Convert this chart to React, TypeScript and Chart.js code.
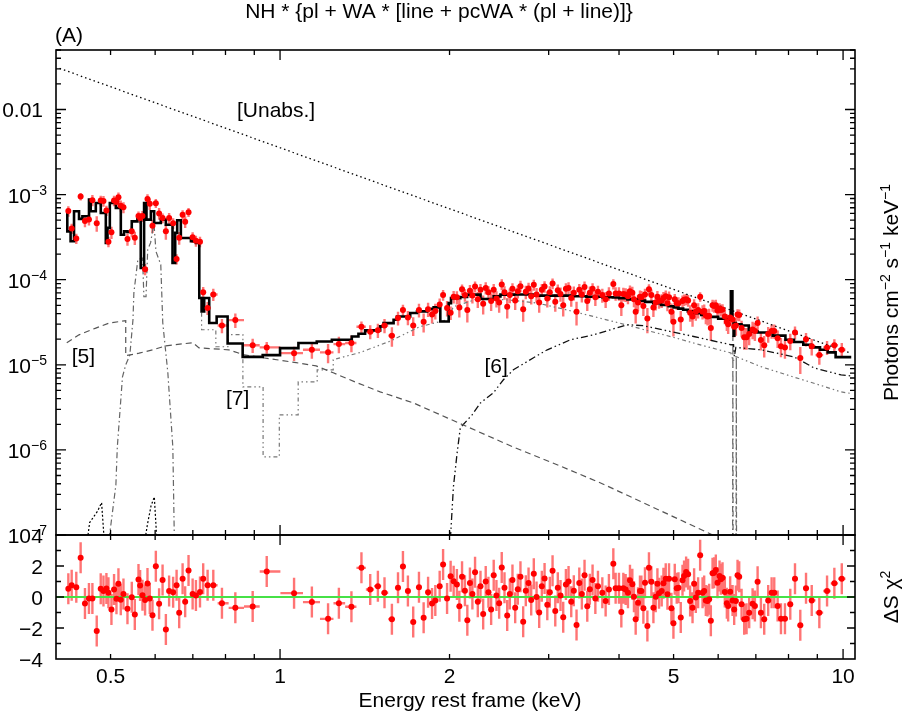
import React, { useEffect, useRef } from 'react';
import { Chart, registerables } from 'chart.js';

Chart.register(...registerables);

const FONT = '"Liberation Sans", Arimo, Arial, Helvetica, sans-serif';
const MAIN_FONT = `21px ${FONT}`;
const SUP_FONT = `14px ${FONT}`;

// ---- axes ----
const X_MIN = 0.4;
const X_MAX = 10.5;
const Y_MIN = 1e-7;
const Y_MAX = 0.05;
const R_MIN = -4;
const R_MAX = 4;

const xTickValues = [0.5, 1, 2, 5, 10];
const xTickLabels = ['0.5', '1', '2', '5', '10'];
const yPowerExponents = [-7, -6, -5, -4, -3];
const yPlainValues = [0.01];
const yPlainLabels = ['0.01'];
const rTickValues = [-4, -2, 0, 2, 4];
const rTickLabels = ['−4', '−2', '0', '2', '4'];

const chartTitle = 'NH * {pl + WA * [line + pcWA * (pl + line)]}';
const panelLabel = '(A)';
const xTitle = 'Energy rest frame (keV)';

// ---- observed spectrum (bin centres, keV) ----
const energy = [
  0.4207, 0.4265, 0.4346, 0.4424, 0.4503, 0.4577, 0.4642, 0.4725, 0.4803, 0.4857,
  0.4916, 0.4957, 0.5018, 0.5072, 0.5122, 0.5164, 0.5213, 0.5271, 0.5358, 0.5453,
  0.5521, 0.5605, 0.5642, 0.5697, 0.5758, 0.5815, 0.5870, 0.5935, 0.6017, 0.6098,
  0.6185, 0.6269, 0.6353, 0.6458, 0.6550, 0.6620, 0.6713, 0.6784, 0.6878, 0.6994,
  0.7089, 0.7208, 0.7303, 0.7436, 0.7611, 0.7885, 0.8329, 0.8941, 0.9470, 1.059,
  1.139, 1.217, 1.272, 1.339, 1.395, 1.446, 1.492, 1.533, 1.580, 1.620,
  1.653, 1.687, 1.724, 1.765, 1.799, 1.832, 1.862, 1.887, 1.921, 1.948,
  1.980, 2.009, 2.034,
  2.061, 2.082, 2.105, 2.130, 2.151, 2.174, 2.196, 2.220, 2.245, 2.270,
  2.295, 2.319, 2.345, 2.371, 2.396, 2.423, 2.450, 2.476, 2.504, 2.532,
  2.559, 2.587, 2.616, 2.644, 2.673, 2.703, 2.732, 2.763, 2.793, 2.823,
  2.855, 2.886, 2.917, 2.950, 2.983, 3.014, 3.048, 3.082, 3.114, 3.149,
  3.184, 3.219, 3.254, 3.290, 3.325, 3.362, 3.400, 3.436, 3.474, 3.513,
  3.550, 3.590, 3.631, 3.670,
  3.736, 3.787, 3.838, 3.908, 3.945, 3.999, 4.038, 4.071, 4.110, 4.149,
  4.183, 4.224, 4.252, 4.282, 4.323, 4.358, 4.383, 4.419, 4.448, 4.492,
  4.521, 4.566, 4.604, 4.648, 4.680, 4.711, 4.763, 4.797, 4.842, 4.876,
  4.908, 4.956, 4.997, 5.024, 5.065, 5.101, 5.149, 5.186, 5.219, 5.263,
  5.306, 5.350, 5.403, 5.438, 5.476, 5.528, 5.574, 5.629, 5.666, 5.705,
  5.745, 5.783, 5.823, 5.864, 5.902, 5.943, 5.984, 6.034, 6.066, 6.108,
  6.166, 6.217, 6.250, 6.302, 6.364, 6.406, 6.451, 6.495, 6.539, 6.603,
  6.674, 6.739, 6.812, 6.907, 6.973, 7.050, 7.146, 7.244, 7.362, 7.466,
  7.547, 7.652, 7.757, 7.885, 8.058, 8.215, 8.395, 8.594, 8.797, 9.075,
  9.366, 9.650, 9.947,
];

// photons cm^-2 s^-1 keV^-1
const flux = [
  6.4e-4, 4.0e-4, 3.05e-4, 9.5e-4, 4.9e-4, 5.1e-4, 8.6e-4, 4.6e-4, 8.5e-4, 8.4e-4,
  6.5e-4, 2.8e-4, 3.6e-4, 8.5e-4, 8.2e-4, 9.3e-4, 7.4e-4, 7.1e-4, 3.0e-4, 3.7e-4,
  3.1e-4, 5.6e-4, 5.3e-4, 5.6e-4, 1.33e-4, 8.9e-4, 7.8e-4, 4.3e-4, 7.9e-4, 6.0e-4,
  5.3e-4, 3.7e-4, 5.3e-4, 4.6e-4, 1.75e-4, 3.1e-4, 5.8e-4, 4.8e-4, 6.2e-4, 3.15e-4,
  2.86e-4, 2.8e-4, 7.1e-5, 4.65e-5, 6.7e-5, 2.9e-5, 3.35e-5, 1.7e-5, 1.6e-5, 1.37e-5,
  1.5e-5, 1.4e-5, 1.75e-5, 1.8e-5, 2.8e-5, 2.45e-5, 2.55e-5, 2.9e-5, 2.2e-5, 3.55e-5,
  4.4e-5, 3.6e-5, 2.9e-5, 4.4e-5, 3.2e-5, 4.5e-5, 3.9e-5, 4.3e-5, 5.1e-5, 6.6e-5,
  4.65e-5, 4.1e-5, 6.3e-5,
  6.2e-5, 4.7e-5, 7.7e-5, 6.6e-5, 4.4e-5, 7.4e-5, 6.5e-5, 8.3e-5, 5.9e-5, 7.6e-5,
  5.2e-5, 8.0e-5, 7.1e-5, 5.6e-5, 7.6e-5, 6.0e-5, 5.4e-5, 8.8e-5, 7.1e-5, 4.8e-5,
  6.6e-5, 7.8e-5, 5.7e-5, 7.3e-5, 8.4e-5, 4.5e-5, 7.2e-5, 7.9e-5, 6.4e-5, 8.7e-5,
  6.7e-5, 5.4e-5, 7.6e-5, 8.3e-5, 6.0e-5, 7.1e-5, 9.0e-5, 5.5e-5, 7.5e-5, 6.8e-5,
  5.0e-5, 7.8e-5, 8.0e-5, 6.1e-5, 7.0e-5, 4.2e-5, 7.6e-5, 6.7e-5, 8.2e-5, 5.6e-5,
  7.0e-5, 7.8e-5, 6.2e-5, 7.2e-5,
  6.6e-5, 5.9e-5, 6.9e-5, 8.9e-5, 6.9e-5, 6.9e-5, 5.0e-5, 6.8e-5, 6.7e-5, 6.4e-5,
  7.3e-5, 7.0e-5, 5.9e-5, 4.2e-5, 5.4e-5, 6.3e-5, 6.2e-5, 4.9e-5, 6.7e-5, 3.5e-5,
  7.7e-5, 6.6e-5, 4.7e-5, 5.4e-5, 6.3e-5, 5.6e-5, 5.7e-5, 6.1e-5, 6.4e-5, 5.3e-5,
  6.2e-5, 4.2e-5, 3.2e-5, 5.9e-5, 5.3e-5, 5.3e-5, 3.4e-5, 5.6e-5, 5.8e-5, 5.9e-5,
  5.7e-5, 4.1e-5, 3.7e-5, 5.0e-5, 4.2e-5, 4.4e-5, 6.3e-5, 4.2e-5, 4.3e-5, 3.8e-5,
  3.7e-5, 3.75e-5, 2.7e-5, 5.0e-5, 4.9e-5, 5.0e-5, 4.35e-5, 4.6e-5, 4.4e-5, 4.45e-5,
  3.7e-5, 3.2e-5, 3.0e-5, 3.6e-5, 3.4e-5, 2.8e-5, 2.9e-5, 3.9e-5, 3.85e-5, 2.7e-5,
  2.1e-5, 2.1e-5, 2.3e-5, 2.6e-5, 2.5e-5, 3.1e-5, 1.95e-5, 1.7e-5, 2.3e-5, 2.5e-5,
  2.5e-5, 2.05e-5, 1.65e-5, 1.6e-5, 1.9e-5, 2.4e-5, 1.2e-5, 2.0e-5, 1.65e-5, 1.3e-5,
  1.6e-5, 1.7e-5, 1.5e-5,
];

const fluxErr = [
  9.0e-5, 5.5e-5, 4.2e-5, 9.5e-5, 7.8e-5, 7.8e-5, 1.3e-4, 9.5e-5, 1.2e-4, 1.2e-4,
  9.0e-5, 4.0e-5, 6.0e-5, 1.2e-4, 1.25e-4, 1.25e-4, 1.1e-4, 1.05e-4, 5.0e-5, 5.5e-5,
  5.5e-5, 7.3e-5, 7.3e-5, 8.3e-5, 2.0e-5, 1.2e-4, 1.2e-4, 7.6e-5, 9.5e-5, 9.5e-5,
  7.0e-5, 7.6e-5, 7.6e-5, 6.6e-5, 2.4e-5, 5.3e-5, 7.5e-5, 7.5e-5, 7.5e-5, 4.6e-5,
  4.2e-5, 4.0e-5, 1.1e-5, 8.0e-6, 1.1e-5, 5.5e-6, 6.5e-6, 3.2e-6, 2.5e-6, 2.6e-6,
  3.2e-6, 3.6e-6, 3.8e-6, 4.0e-6, 4.3e-6, 4.6e-6, 4.8e-6, 5.5e-6, 5.7e-6, 6.5e-6,
  6.8e-6, 6.8e-6, 7.2e-6, 8.0e-6, 8.0e-6, 8.5e-6, 8.5e-6, 9.0e-6, 9.0e-6, 9.5e-6,
  9.5e-6, 7.5e-6, 1.05e-5,
  1.1e-5, 1.1e-5, 1.1e-5, 1.1e-5, 1.25e-5, 1.25e-5, 1.25e-5, 1.25e-5, 1.25e-5, 1.3e-5,
  1.3e-5, 1.3e-5, 1.3e-5, 1.3e-5, 1.3e-5, 1.3e-5, 1.3e-5, 1.3e-5, 1.3e-5, 1.3e-5,
  1.3e-5, 1.3e-5, 1.3e-5, 1.3e-5, 1.3e-5, 1.3e-5, 1.3e-5, 1.3e-5, 1.3e-5, 1.3e-5,
  1.3e-5, 1.3e-5, 1.3e-5, 1.3e-5, 1.3e-5, 1.3e-5, 1.3e-5, 1.3e-5, 1.3e-5, 1.3e-5,
  1.3e-5, 1.3e-5, 1.3e-5, 1.3e-5, 1.3e-5, 1.3e-5, 1.3e-5, 1.3e-5, 1.3e-5, 1.3e-5,
  1.3e-5, 1.3e-5, 1.3e-5, 1.3e-5,
  1.25e-5, 1.25e-5, 1.25e-5, 1.25e-5, 1.25e-5, 1.25e-5, 1.25e-5, 1.25e-5, 1.25e-5, 1.25e-5,
  1.25e-5, 1.25e-5, 1.15e-5, 1.15e-5, 1.15e-5, 1.15e-5, 1.15e-5, 1.15e-5, 1.15e-5, 1.15e-5,
  1.15e-5, 1.05e-5, 1.05e-5, 1.05e-5, 1.05e-5, 1.05e-5, 1.05e-5, 1.05e-5, 1.05e-5, 1.05e-5,
  1.05e-5, 1.05e-5, 1.05e-5, 9.0e-6, 9.0e-6, 9.0e-6, 9.0e-6, 9.0e-6, 9.0e-6, 9.0e-6,
  9.0e-6, 9.0e-6, 9.0e-6, 9.0e-6, 9.0e-6, 9.0e-6, 8.0e-6, 8.0e-6, 8.0e-6, 8.0e-6,
  8.0e-6, 8.0e-6, 8.0e-6, 8.0e-6, 8.0e-6, 8.0e-6, 8.0e-6, 7.0e-6, 7.0e-6, 7.0e-6,
  7.0e-6, 7.0e-6, 7.0e-6, 7.0e-6, 7.0e-6, 7.0e-6, 7.0e-6, 6.0e-6, 6.0e-6, 6.0e-6,
  6.0e-6, 6.0e-6, 6.0e-6, 6.0e-6, 6.0e-6, 6.0e-6, 4.8e-6, 4.8e-6, 4.8e-6, 4.8e-6,
  4.8e-6, 4.8e-6, 4.2e-6, 4.2e-6, 4.2e-6, 4.2e-6, 4.2e-6, 3.6e-6, 3.6e-6, 3.0e-6,
  3.0e-6, 3.0e-6, 3.0e-6,
];

// residuals, sign(data-model) * sqrt(chi^2)
const resid = [
  0.53, 0.76, 0.63, 2.53, -0.42, -0.1, -0.1, -2.2, 0.53, 0.38,
  0.55, 0.27, -0.81, 0.48, -0.12, 0.85, -0.18, 0.2, -0.76, -0.01,
  -1.13, 1.13, 0.74, 0.12, -0.2, 0.87, -0.1, -1.17, 1.99, -0.44,
  1.09, -2.1, 0.38, 0.31, 0.76, -1.02, 1.17, -0.31, 1.71, 0.2,
  0.1, 0.33, 1.17, 0.76, 0.76, -0.4, -0.7, -0.61, 1.65, 0.25,
  -0.33, -1.41, -0.4, -0.63, 1.88, 0.48, 0.7, 0.27, -1.43, 0.59,
  1.97, 0.38, -1.62, 0.63, -1.34, 0.31, -0.42, -0.23, 0.7, 2.1,
  -0.1, 1.34, 1.02,
  0.8, -0.6, 1.3, 0.4, -1.5, 0.9, 0.2, 1.6, -0.3, 0.7,
  -1.1, 1.0, 0.3, -0.8, 1.4, 0.1, -0.4, 1.9, 0.6, -1.2,
  0.2, 1.1, -0.7, 0.5, 1.3, -1.6, 0.4, 0.9, -0.2, 1.5,
  0.0, -1.0, 0.7, 1.2, -0.5, 0.3, 1.7, -0.9, 0.6, 0.1,
  -1.3, 0.8, 1.0, -0.3, 0.4, -1.8, 0.9, 0.2, 1.4, -0.6,
  0.5, 1.1, -0.1, 0.7,
  0.28, -0.26, 0.49, 2.15, 0.56, 0.56, -0.97, 0.56, 0.49, 0.28,
  1.08, 0.82, 0.02, -1.44, -0.37, 0.39, 0.39, -0.73, 0.92, -1.87,
  1.89, 0.99, -0.69, 0.02, 0.86, 0.24, 0.39, 0.88, 1.18, 0.17,
  1.18, -0.73, -1.7, 1.14, 0.56, 0.6, -1.33, 1.08, 1.35, 1.61,
  1.46, -0.26, -0.69, 0.86, -0.04, 0.28, 2.69, 0.28, 0.39, -0.22,
  -0.26, -0.15, -1.53, 1.53, 1.57, 1.74, 0.92, 1.35, 1.14, 1.25,
  0.32, -0.41, -0.58, 0.34, -0.22, -0.8, -0.26, 1.4, 1.31, -0.47,
  -1.44, -1.4, -1.01, -0.43, -0.58, 0.99, -1.01, -1.44, -0.22, 0.28,
  0.28, -0.58, -1.4, -1.4, -0.47, 1.18, -1.83, 0.56, -0.22, -1.01,
  0.39, 0.88, 1.18,
];

// ---- total folded model (histogram: lower bin edges and levels) ----
const modelE = [
  0.4189, 0.4246, 0.4306, 0.4395, 0.4456, 0.4578, 0.4610, 0.4707, 0.4804, 0.4904,
  0.4938, 0.4985, 0.5040, 0.5109, 0.5214, 0.5284, 0.5358, 0.5453, 0.5580, 0.5657,
  0.5735, 0.5791, 0.5896, 0.5976, 0.6141, 0.6268, 0.6442, 0.6513, 0.6566, 0.6665,
  0.6946, 0.7089, 0.7187, 0.7255, 0.7333, 0.7485, 0.7716, 0.8070, 0.8582, 0.9315,
  1.0, 1.078, 1.162, 1.236, 1.341, 1.378, 1.416, 1.506, 1.527, 1.591,
  1.613, 1.703, 1.751, 1.824, 1.874, 1.926, 1.993, 2.012, 2.090, 2.149,
  2.270, 2.396, 2.463, 2.601, 2.823, 3.28, 3.5, 3.736, 3.9, 4.0,
  4.14, 4.3, 4.45, 4.6, 4.75, 4.9, 5.0, 5.1, 5.2, 5.3,
  5.43, 5.6, 5.8, 6.0, 6.2, 6.32, 6.36, 6.39, 6.41, 6.45,
  6.6, 6.8, 7.05, 7.5, 7.9, 8.18, 8.5, 8.76, 9.1, 9.39,
  9.7, 9.92, 10.34,
];
const modelF = [
  6.08e-4, 3.70e-4, 2.83e-4, 6.37e-4, 5.18e-4, 5.56e-4, 8.73e-4, 6.37e-4, 7.97e-4, 6.08e-4,
  2.70e-4, 4.06e-4, 7.97e-4, 8.35e-4, 6.97e-4, 3.38e-4, 3.70e-4, 3.63e-4, 4.85e-4, 5.56e-4,
  1.37e-4, 7.97e-4, 5.08e-4, 6.37e-4, 4.64e-4, 5.08e-4, 4.43e-4, 1.57e-4, 3.55e-4, 4.99e-4,
  3.09e-4, 2.83e-4, 2.70e-4, 6.1e-5, 4.24e-5, 6.1e-5, 3.1e-5, 3.7e-5, 1.78e-5, 1.24e-5,
  1.3e-5, 1.57e-5, 1.8e-5, 1.88e-5, 1.97e-5, 2.15e-5, 2.32e-5, 2.54e-5, 2.83e-5, 3.09e-5,
  3.38e-5, 3.7e-5, 4.06e-5, 4.24e-5, 4.52e-5, 4.73e-5, 3.23e-5, 5.31e-5, 6.08e-5, 6.25e-5,
  6.67e-5, 5.92e-5, 6.37e-5, 6.67e-5, 6.7e-5, 6.5e-5, 6.4e-5, 6.3e-5, 6.22e-5, 6.17e-5,
  6.08e-5, 5.87e-5, 5.67e-5, 5.49e-5, 5.31e-5, 5.04e-5, 4.87e-5, 4.72e-5, 4.57e-5, 4.43e-5,
  4.24e-5, 4.05e-5, 3.85e-5, 3.66e-5, 3.48e-5, 3.38e-5, 7.3e-5, 3.3e-5, 2.2e-5, 3.1e-5,
  3.0e-5, 2.9e-5, 2.45e-5, 2.4e-5, 2.2e-5, 1.97e-5, 1.85e-5, 1.72e-5, 1.6e-5, 1.5e-5,
  1.4e-5, 1.23e-5, 1.23e-5,
];

// ---- model components ----
const unabsE = [0.406, 1.0, 10.34];
const unabsF = [0.0304, 3.55e-3, 1.36e-5];

const comp5E = [
  0.418, 0.4395, 0.4707, 0.497, 0.532, 0.532, 0.562, 0.594, 0.627, 0.700,
  0.718, 0.811, 0.859, 0.933, 1.068, 1.159, 1.243, 1.371, 1.506, 1.724,
  1.981, 2.596, 3.05, 3.71, 5.87, 6.3,
];
const comp5F = [
  1.82e-5, 2.25e-5, 2.7e-5, 3.09e-5, 3.3e-5, 1.28e-5, 1.37e-5, 1.5e-5, 1.67e-5, 1.82e-5,
  1.58e-5, 1.5e-5, 1.32e-5, 1.21e-5, 1.06e-5, 9.7e-6, 8.05e-6, 6.14e-6, 4.81e-6, 3.57e-6,
  2.38e-6, 1.08e-6, 7.03e-7, 4.09e-7, 1.0e-7, 7.0e-8,
];

const softLineE = [
  0.497, 0.511, 0.514, 0.525, 0.532, 0.541, 0.548, 0.550, 0.559, 0.570,
  0.573, 0.578, 0.582, 0.589, 0.597, 0.602, 0.614, 0.619, 0.632, 0.645, 0.649,
];
const softLineF = [
  9e-8, 3.87e-7, 1.08e-6, 7.23e-6, 1.0e-5, 1.3e-5, 3.39e-5, 7.0e-5, 1.72e-4, 1.8e-4,
  6.3e-5, 6.3e-5, 2.25e-4, 2.72e-4, 4.69e-4, 2.15e-4, 1.5e-4, 3.12e-5, 8.05e-6, 1.08e-6, 9e-8,
];

const faintE = [0.455, 0.459, 0.474, 0.482, 0.487, 0.52, 0.576, 0.581, 0.590, 0.598, 0.604];
const faintF = [9e-8, 1.4e-7, 1.9e-7, 2.4e-7, 9e-8, null, 9e-8, 1.3e-7, 2.2e-7, 2.8e-7, 9e-8];

const comp7E = [
  0.7255, 0.7255, 0.769, 0.769, 0.808, 0.808, 0.859, 0.859, 0.933, 0.933,
  0.997, 0.997, 1.077, 1.077, 1.164, 1.164, 1.243, 1.243, 1.39, 1.57,
  1.77, 1.99, 2.03, 2.27, 2.6, 2.87, 3.15, 3.6, 4.0, 4.42,
  5.0, 5.6, 6.32, 6.38, 6.45, 7.15, 8.0, 9.0, 9.92, 10.34,
];
const comp7F = [
  6.3e-5, 2.58e-5, 2.58e-5, 1.63e-5, 1.63e-5, 2.26e-5, 2.26e-5, 5.5e-6, 5.5e-6, 8.3e-7,
  8.3e-7, 2.58e-6, 2.58e-6, 6.3e-6, 6.3e-6, 8.7e-6, 8.7e-6, 1.15e-5, 1.4e-5, 1.9e-5,
  2.8e-5, 3.4e-5, 4.8e-5, 6.1e-5, 5.7e-5, 5.3e-5, 4.6e-5, 3.7e-5, 3.1e-5, 2.6e-5,
  2.1e-5, 1.7e-5, 1.38e-5, 1.1e-5, 1.25e-5, 9.5e-6, 7.5e-6, 5.9e-6, 4.8e-6, 4.6e-6,
];

const comp6E = [
  2.007, 2.032, 2.063, 2.09, 2.193, 2.27, 2.393, 2.493, 2.597, 2.82,
  2.983, 3.28, 3.606, 4.14, 4.42, 5.43, 6.32, 6.39, 6.41, 6.45,
  7.15, 8.18, 8.88, 9.92, 10.34,
];
const comp6F = [
  9e-8, 3.67e-7, 9.2e-7, 1.82e-6, 2.58e-6, 3.57e-6, 4.69e-6, 6.67e-6, 8.73e-6, 1.21e-5,
  1.5e-5, 1.97e-5, 2.25e-5, 2.96e-5, 2.88e-5, 2.15e-5, 1.72e-5, 1.72e-5, 1.25e-5, 1.6e-5,
  1.5e-5, 1.24e-5, 9.2e-6, 7.6e-6, 7.4e-6,
];

const feLineE = [6.365, 6.372, 6.378, 6.42, 6.455, 6.462, 6.468];
const feLineF = [9e-8, 2.2e-5, 9e-8, null, 9e-8, 1.25e-5, 9e-8];

// component labels anchored in data coordinates (left edge, baseline)
const compLabels = ['[Unabs.]', '[5]', '[7]', '[6]'];
const compLabelE = [0.8385, 0.4265, 0.8015, 2.307];
const compLabelF = [8.16e-3, 1.06e-5, 3.39e-6, 8.05e-6];

const ERR_COLOR = 'rgba(255, 30, 30, 0.62)';

function pts(xs: number[], ys: (number | null)[]) {
  return xs.map((e, i) => ({ x: e, y: ys[i] }));
}

function binEdges(e: number[]) {
  const n = e.length;
  const lo: number[] = [];
  const hi: number[] = [];
  for (let i = 0; i < n; i++) {
    const a = i > 0 ? Math.sqrt(e[i - 1] * e[i]) : (e[0] * e[0]) / Math.sqrt(e[0] * e[1]);
    const b = i < n - 1 ? Math.sqrt(e[i] * e[i + 1]) : (e[n - 1] * e[n - 1]) / Math.sqrt(e[n - 2] * e[n - 1]);
    lo.push(a);
    hi.push(b);
  }
  return { lo, hi };
}

function drawRich(ctx: CanvasRenderingContext2D, parts: { t: string; sup?: boolean }[], bx: number, cy: number, rotate: boolean) {
  let w = 0;
  for (const p of parts) {
    ctx.font = p.sup ? SUP_FONT : MAIN_FONT;
    w += ctx.measureText(p.t).width;
  }
  ctx.save();
  ctx.translate(bx, cy);
  if (rotate) ctx.rotate(-Math.PI / 2);
  ctx.textAlign = 'left';
  ctx.textBaseline = 'alphabetic';
  let cx = -w / 2;
  for (const p of parts) {
    ctx.font = p.sup ? SUP_FONT : MAIN_FONT;
    ctx.fillText(p.t, cx, p.sup ? -8 : 0);
    cx += ctx.measureText(p.t).width;
  }
  ctx.restore();
}

const decorPlugin = {
  id: 'spectrumDecor',
  beforeDatasetsDraw(chart: any) {
    const { ctx } = chart;
    const { x, y, yr } = chart.scales;
    const { lo, hi } = binEdges(energy);
    ctx.save();
    ctx.strokeStyle = ERR_COLOR;
    ctx.lineWidth = 2.4;
    // upper panel
    ctx.save();
    ctx.beginPath();
    ctx.rect(x.left, y.top, x.right - x.left, y.bottom - y.top);
    ctx.clip();
    ctx.beginPath();
    for (let i = 0; i < energy.length; i++) {
      const px = x.getPixelForValue(energy[i]);
      const py = y.getPixelForValue(flux[i]);
      const low = flux[i] - fluxErr[i];
      const pLo = low > 0 ? y.getPixelForValue(low) : y.bottom + 20;
      const pHi = y.getPixelForValue(flux[i] + fluxErr[i]);
      ctx.moveTo(px, pLo);
      ctx.lineTo(px, pHi);
      ctx.moveTo(x.getPixelForValue(lo[i]), py);
      ctx.lineTo(x.getPixelForValue(hi[i]), py);
    }
    ctx.stroke();
    ctx.restore();
    // residual panel
    ctx.save();
    ctx.beginPath();
    ctx.rect(x.left, yr.top, x.right - x.left, yr.bottom - yr.top);
    ctx.clip();
    ctx.beginPath();
    for (let i = 0; i < energy.length; i++) {
      const px = x.getPixelForValue(energy[i]);
      const py = yr.getPixelForValue(resid[i]);
      ctx.moveTo(px, yr.getPixelForValue(resid[i] - 1));
      ctx.lineTo(px, yr.getPixelForValue(resid[i] + 1));
      ctx.moveTo(x.getPixelForValue(lo[i]), py);
      ctx.lineTo(x.getPixelForValue(hi[i]), py);
    }
    ctx.stroke();
    ctx.restore();
    ctx.restore();
  },
  beforeDatasetDraw(chart: any, args: any) {
    const ys = chart.scales[args.meta.yAxisID];
    const x = chart.scales.x;
    chart.ctx.save();
    chart.ctx.beginPath();
    chart.ctx.rect(x.left, ys.top, x.right - x.left, ys.bottom - ys.top);
    chart.ctx.clip();
  },
  afterDatasetDraw(chart: any) {
    chart.ctx.restore();
  },
  afterDraw(chart: any) {
    const { ctx } = chart;
    const { x, y, yr } = chart.scales;
    ctx.save();
    ctx.strokeStyle = '#000';
    ctx.lineWidth = 1.6;
    ctx.strokeRect(x.left, y.top, x.right - x.left, y.bottom - y.top);
    ctx.strokeRect(x.left, yr.top, x.right - x.left, yr.bottom - yr.top);

    // tick marks (inward, all four sides of both panels)
    ctx.lineWidth = 1.3;
    ctx.beginPath();
    const xEdges: [number, number][] = [[y.top, 1], [y.bottom, -1], [yr.top, 1], [yr.bottom, -1]];
    for (const d of [0.1, 1, 10]) {
      for (let m = 1; m <= 9; m++) {
        const v = m * d;
        if (v <= X_MIN * 1.001 || v > X_MAX) continue;
        const len = m === 1 ? 10 : 5;
        const px = x.getPixelForValue(v);
        for (const [edge, dir] of xEdges) {
          ctx.moveTo(px, edge);
          ctx.lineTo(px, edge + dir * len);
        }
      }
    }
    for (let e = -7; e <= -2; e++) {
      for (let m = 1; m <= 9; m++) {
        const v = m * Math.pow(10, e);
        if (v > Y_MAX * 1.0001) continue;
        const len = m === 1 ? 10 : 5;
        const py = y.getPixelForValue(v);
        ctx.moveTo(x.left, py);
        ctx.lineTo(x.left + len, py);
        ctx.moveTo(x.right, py);
        ctx.lineTo(x.right - len, py);
      }
    }
    for (let v = R_MIN + 1; v <= R_MAX - 1; v++) {
      const len = v % 2 === 0 ? 8 : 5;
      const py = yr.getPixelForValue(v);
      ctx.moveTo(x.left, py);
      ctx.lineTo(x.left + len, py);
      ctx.moveTo(x.right, py);
      ctx.lineTo(x.right - len, py);
    }
    ctx.stroke();

    // tick labels
    ctx.fillStyle = '#000';
    ctx.font = MAIN_FONT;
    ctx.textBaseline = 'alphabetic';
    ctx.textAlign = 'center';
    xTickValues.forEach((v, i) => {
      ctx.fillText(xTickLabels[i], x.getPixelForValue(v), yr.bottom + 24);
    });
    ctx.textAlign = 'right';
    yPlainValues.forEach((v, i) => {
      ctx.fillText(yPlainLabels[i], x.left - 13, y.getPixelForValue(v) + 7.5);
    });
    rTickValues.forEach((v, i) => {
      ctx.font = MAIN_FONT;
      ctx.textAlign = 'right';
      ctx.fillText(rTickLabels[i], x.left - 13, yr.getPixelForValue(v) + 7.5);
    });
    for (const ex of yPowerExponents) {
      const cy = y.getPixelForValue(Math.pow(10, ex));
      const sup = '−' + String(-ex);
      ctx.font = SUP_FONT;
      const ws = ctx.measureText(sup).width;
      ctx.font = MAIN_FONT;
      const w10 = ctx.measureText('10').width;
      const x0 = x.left - 9 - ws - w10;
      ctx.textAlign = 'left';
      ctx.fillText('10', x0, cy + 8);
      ctx.font = SUP_FONT;
      ctx.fillText(sup, x0 + w10, cy);
    }

    // titles
    ctx.font = MAIN_FONT;
    ctx.textAlign = 'center';
    ctx.fillText(chartTitle, 439, 18);
    ctx.fillText(xTitle, 470, 707);
    ctx.textAlign = 'left';
    ctx.fillText(panelLabel, x.left - 1, 42);

    // component labels
    compLabels.forEach((t, i) => {
      ctx.fillText(t, x.getPixelForValue(compLabelE[i]), y.getPixelForValue(compLabelF[i]));
    });

    // right-hand axis titles
    drawRich(ctx, [
      { t: 'Photons cm' }, { t: '−2', sup: true }, { t: ' s' }, { t: '−1', sup: true },
      { t: ' keV' }, { t: '−1', sup: true },
    ], 898, (y.top + y.bottom) / 2, true);
    drawRich(ctx, [{ t: 'ΔS χ' }, { t: '2', sup: true }], 898, (yr.top + yr.bottom) / 2, true);
    ctx.restore();
  },
};

export default function App() {
  const ref = useRef<HTMLCanvasElement>(null);
  useEffect(() => {
    document.body.style.margin = '0';
    document.body.style.overflow = 'hidden';
    const canvas = ref.current;
    if (!canvas) return;
    const line = (data: any[], color: string, dash: number[], width: number, order: number, extra: any = {}) => ({
      data,
      yAxisID: 'y',
      showLine: true,
      borderColor: color,
      borderDash: dash,
      borderWidth: width,
      pointRadius: 0,
      pointHoverRadius: 0,
      fill: false,
      order,
      ...extra,
    });
    const chart = new Chart(canvas, {
      type: 'scatter',
      data: {
        datasets: [
          {
            data: pts(energy, flux), yAxisID: 'y', showLine: false, pointRadius: 3,
            pointHoverRadius: 3, pointBackgroundColor: '#ff0000', pointBorderWidth: 0, order: 0,
          },
          {
            data: pts(energy, resid), yAxisID: 'yr', showLine: false, pointRadius: 3,
            pointHoverRadius: 3, pointBackgroundColor: '#ff0000', pointBorderWidth: 0, order: 0,
          },
          line([{ x: X_MIN, y: 0 }, { x: X_MAX, y: 0 }], 'rgb(70, 225, 70)', [], 2, 1, { yAxisID: 'yr' }),
          line(pts(modelE, modelF), '#000', [], 2.6, 1, { stepped: 'after' }),
          line(pts(unabsE, unabsF), '#000', [1.5, 3], 1.3, 2),
          line(pts(comp5E, comp5F), '#555', [6, 4], 1.2, 2),
          line(pts(softLineE, softLineF), '#666', [6, 3, 1.5, 3], 1.2, 2),
          line(pts(faintE, faintF), '#000', [2, 2], 1.2, 2),
          line(pts(comp7E, comp7F), '#777', [4, 3, 1.5, 3, 1.5, 3], 1.2, 2),
          line(pts(comp6E, comp6F), '#111', [7, 3, 1.5, 3, 1.5, 3], 1.3, 2),
          line(pts(feLineE, feLineF), '#666', [6, 3, 1.5, 3], 1.2, 2),
        ],
      },
      options: {
        animation: false,
        responsive: false,
        devicePixelRatio: 1,
        layout: { padding: { left: 0, right: 47, top: 50, bottom: 0 } },
        plugins: { legend: { display: false }, tooltip: { enabled: false }, title: { display: false } },
        events: [],
        scales: {
          x: {
            type: 'logarithmic', min: X_MIN, max: X_MAX, position: 'bottom',
            grid: { display: false }, border: { display: false }, ticks: { display: false },
            afterFit: (s: any) => { s.height = 55; },
          },
          yr: {
            type: 'linear', min: R_MIN, max: R_MAX, position: 'left', stack: 'panels', stackWeight: 124,
            grid: { display: false }, border: { display: false }, ticks: { display: false },
            afterFit: (s: any) => { s.width = 56; },
          },
          y: {
            type: 'logarithmic', min: Y_MIN, max: Y_MAX, position: 'left', stack: 'panels', stackWeight: 485,
            grid: { display: false }, border: { display: false }, ticks: { display: false },
            afterFit: (s: any) => { s.width = 56; },
          },
        },
      } as any,
      plugins: [decorPlugin as any],
    });
    return () => chart.destroy();
  }, []);
  return (
    <div style={{ width: 902, height: 714 }}>
      <canvas ref={ref} width={902} height={714} style={{ display: 'block', width: 902, height: 714 }} />
    </div>
  );
}
